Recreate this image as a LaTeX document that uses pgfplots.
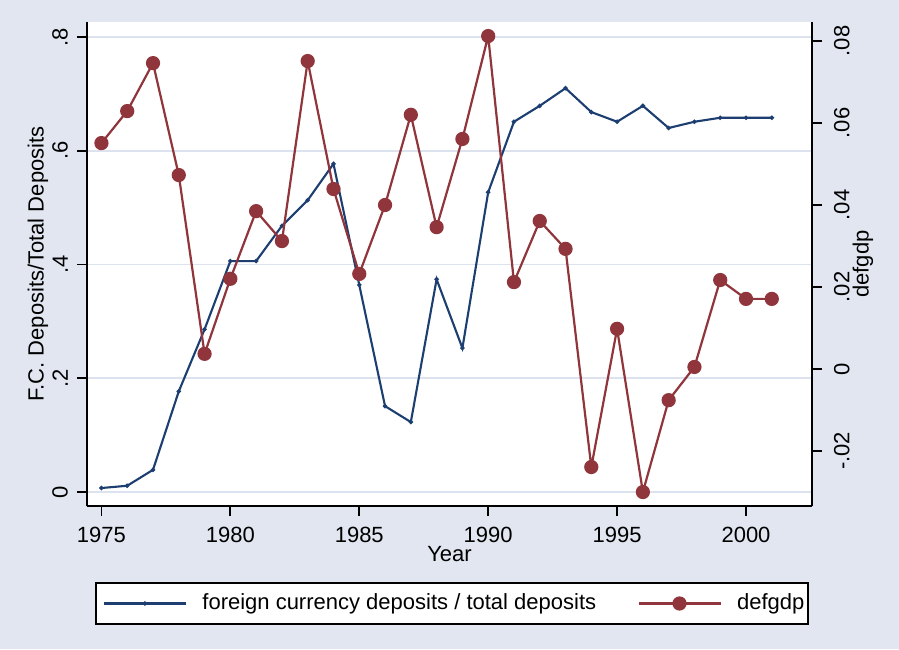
\documentclass[border=0pt]{standalone}
\usepackage{fontspec}
\setmainfont{Liberation Sans}
\usepackage{pgfplots}
\usepackage{pgfplotstable}
\pgfplotsset{compat=1.18}
\definecolor{bg}{RGB}{225,230,240}
\definecolor{gridc}{RGB}{220,226,238}
\definecolor{navyc}{RGB}{28,62,112}
\definecolor{maroonc}{RGB}{144,53,59}

\pgfplotstableread{
year fc
1975 0.007
1976 0.011
1977 0.039
1978 0.177
1979 0.286
1980 0.406
1981 0.406
1982 0.468
1983 0.513
1984 0.577
1985 0.364
1986 0.151
1987 0.123
1988 0.374
1989 0.253
1990 0.527
1991 0.651
1992 0.679
1993 0.710
1994 0.668
1995 0.651
1996 0.679
1997 0.640
1998 0.651
1999 0.658
2000 0.658
2001 0.658
}\fctable

\pgfplotstableread{
year defgdp
1975 0.0551
1976 0.0629
1977 0.0746
1978 0.0473
1979 0.0037
1980 0.0220
1981 0.0385
1982 0.0312
1983 0.0751
1984 0.0439
1985 0.0232
1986 0.0400
1987 0.0620
1988 0.0346
1989 0.0561
1990 0.0812
1991 0.0212
1992 0.0361
1993 0.0293
1994 -0.0239
1995 0.0098
1996 -0.0300
1997 -0.0076
1998 0.0005
1999 0.0217
2000 0.0171
2001 0.0171
}\deftable

\begin{document}
\begin{tikzpicture}[x=1pt,y=1pt]
\fill[bg] (0,0) rectangle (449.5,324.5);
\useasboundingbox (0,0) rectangle (449.5,324.5);
\pgfplotsset{
  common/.style={
    at={(43.5pt,71.5pt)}, anchor=south west,
    scale only axis, width=362.5pt, height=242pt,
    xmin=1974.44, xmax=2002.56,
    axis line style={line width=1pt, black, -},
    tick align=outside, major tick length=5pt,
    every tick/.style={black, line width=0.9pt},
    tick label style={font=\fontsize{11}{13}\selectfont},
    label style={font=\fontsize{11}{13}\selectfont},
    scaled x ticks=false, scaled y ticks=false,
  },
  legend image code/.code={\draw[mark repeat=2,mark phase=2,#1] plot coordinates {(0pt,0pt) (20.5pt,0pt) (41pt,0pt)};},
}
\begin{axis}[common,
  ymin=-0.0246, ymax=0.8264,
  axis x line*=bottom, axis y line*=left,
  axis background/.style={fill=white},
  xtick={1975,1980,1985,1990,1995,2000},
  xticklabels={1975,1980,1985,1990,1995,2000},
  xticklabel style={yshift=-2pt},
  ytick={0,0.2,0.4,0.6,0.8}, yticklabels={0,.2,.4,.6,.8},
  ymajorgrids, major grid style={gridc, line width=0.9pt},
  yticklabel style={xshift=-1pt, rotate=90, anchor=south},
  xlabel={Year}, xlabel style={at={(axis description cs:0.5,-0.0992)}, anchor=center},
  ylabel={F.C. Deposits/Total Deposits},
  ylabel style={at={(axis description cs:-0.0676,0.5)}, anchor=center},
  legend columns=2,
  legend style={at={(axis description cs:0.5034,-0.2014)}, anchor=center,
    draw=black, line width=0.8pt, fill=white,
    font=\fontsize{11}{13}\selectfont,
    inner xsep=3.5pt, inner ysep=5.6pt,
    nodes={inner sep=0pt},
    /tikz/every odd column/.append style={column sep=7.75pt},
    /tikz/every even column/.append style={column sep=19pt}},
]
\addplot[navyc, line width=1.05pt, mark=*, mark size=0.5pt] table[x=year, y=fc] {\fctable};
\addlegendentry{\makebox[198.5pt][l]{foreign currency deposits / total deposits}}
\addlegendimage{maroonc, line width=1.1pt, mark=*, mark size=3pt}
\addlegendentry{\makebox[32pt][l]{defgdp}}
\end{axis}
\begin{axis}[common,
  ymin=-0.03341, ymax=0.08463,
  axis y line*=right, axis x line=none,
  ytick={-0.02,0,0.02,0.04,0.06,0.08},
  yticklabels={-.02,0,.02,.04,.06,.08},
  yticklabel style={xshift=2.5pt, rotate=90, anchor=north},
  ylabel={defgdp},
  ylabel style={at={(axis description cs:1.0703,0.5)}, anchor=center},
]
\addplot[maroonc, line width=1.1pt, mark=*, mark size=3pt] table[x=year, y=defgdp] {\deftable};
\end{axis}
\end{tikzpicture}
\end{document}
